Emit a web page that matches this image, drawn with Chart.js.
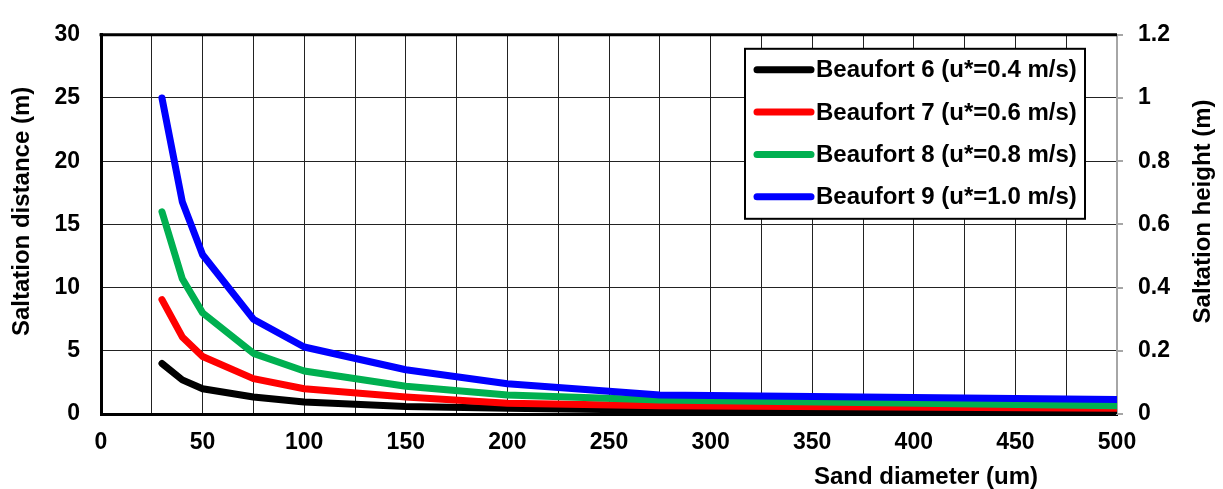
<!DOCTYPE html>
<html>
<head>
<meta charset="utf-8">
<script src="https://cdn.jsdelivr.net/npm/chart.js@4.4.0/dist/chart.umd.min.js"></script>
<style>
html, body { margin: 0; padding: 0; background: #fff; }
#cadre { width: 1223px; height: 489px; }
</style>
</head>
<body>
<div id="cadre"><canvas id="graphique-saltation"></canvas></div>
<script>
// Diamètre du sable (um)
const diametres = [30, 40, 50, 75, 100, 150, 200, 275, 500];
// Distance de saltation (m) pour chaque force de vent
const beaufort6 = [4.0, 2.7, 2.0, 1.35, 0.95, 0.6, 0.45, 0.3, 0.2];
const beaufort7 = [9.05, 6.1, 4.55, 2.8, 2.0, 1.35, 0.85, 0.65, 0.45];
const beaufort8 = [16.0, 10.7, 8.0, 4.8, 3.4, 2.2, 1.5, 1.1, 0.65];
const beaufort9 = [25.0, 16.8, 12.6, 7.5, 5.3, 3.5, 2.4, 1.5, 1.15];
// Légende
const nomsSeries = [
    "Beaufort 6 (u*=0.4 m/s)",
    "Beaufort 7 (u*=0.6 m/s)",
    "Beaufort 8 (u*=0.8 m/s)",
    "Beaufort 9 (u*=1.0 m/s)"
];
const couleurs = ["#000000", "#ff0000", "#00b050", "#0000ff"];
// Titres des axes
const titreX = "Sand diameter (um)";
const titreY = "Saltation distance (m)";
const titreY2 = "Saltation height (m)";

const police = "bold 24px 'Liberation Sans', Arial, sans-serif";
const fontTicks = { family: "'Liberation Sans', Arial, sans-serif", size: 23, weight: "bold" };

const series = [beaufort6, beaufort7, beaufort8, beaufort9];
const datasets = series.map((valeurs, i) => ({
    label: nomsSeries[i],
    data: diametres.map((d, j) => ({ x: d, y: valeurs[j] })),
    borderColor: couleurs[i],
    backgroundColor: couleurs[i],
    borderWidth: 7,
    borderCapStyle: "round",
    borderJoinStyle: "round",
    pointRadius: 0,
    tension: 0,
    yAxisID: "y",
    order: series.length - i // Beaufort 9 dessiné au-dessus
}));

// Cadre du haut, titres des axes et légende dans la zone du graphique
const habillage = {
    id: "habillage",
    beforeDatasetsDraw(chart) {
        const ctx = chart.ctx;
        const zone = chart.chartArea;
        ctx.save();
        ctx.strokeStyle = "#000";
        ctx.lineWidth = 3;
        ctx.beginPath();
        ctx.moveTo(zone.left - 1.5, zone.top);
        ctx.lineTo(zone.right, zone.top);
        ctx.stroke();
        ctx.restore();
    },
    afterDraw(chart) {
        const ctx = chart.ctx;
        const zone = chart.chartArea;
        const milieuY = (zone.top + zone.bottom) / 2 - 13;
        ctx.save();
        ctx.font = police;
        ctx.fillStyle = "#000";
        ctx.textAlign = "center";
        ctx.textBaseline = "middle";
        // titre de l'axe X
        ctx.fillText(titreX, chart.scales.x.getPixelForValue(406), 477);
        // titre de gauche
        ctx.save();
        ctx.translate(22, milieuY);
        ctx.rotate(-Math.PI / 2);
        ctx.fillText(titreY, 0, 0);
        ctx.restore();
        // titre de droite
        ctx.save();
        ctx.translate(1203, milieuY);
        ctx.rotate(-Math.PI / 2);
        ctx.fillText(titreY2, 0, 0);
        ctx.restore();

        // légende
        const boiteDroite = zone.right - 32;
        const boiteGauche = boiteDroite - 340;
        const boiteHaut = zone.top + 14;
        const boiteBas = boiteHaut + 170;
        ctx.fillStyle = "#fff";
        ctx.fillRect(boiteGauche, boiteHaut, boiteDroite - boiteGauche, boiteBas - boiteHaut);
        ctx.strokeStyle = "#000";
        ctx.lineWidth = 2;
        ctx.strokeRect(boiteGauche, boiteHaut, boiteDroite - boiteGauche, boiteBas - boiteHaut);
        ctx.textAlign = "left";
        for (let i = 0; i < nomsSeries.length; i++) {
            const y = boiteHaut + 21 + i * 42.3;
            ctx.strokeStyle = couleurs[i];
            ctx.lineWidth = 7;
            ctx.lineCap = "round";
            ctx.beginPath();
            ctx.moveTo(boiteGauche + 12, y);
            ctx.lineTo(boiteGauche + 66, y);
            ctx.stroke();
            ctx.fillStyle = "#000";
            ctx.fillText(nomsSeries[i], boiteGauche + 71, y + 1);
        }
        ctx.restore();
    }
};

new Chart(document.querySelector("#graphique-saltation"), {
    type: "line",
    data: { datasets: datasets },
    options: {
        responsive: true,
        maintainAspectRatio: false,
        animation: false,
        devicePixelRatio: 1,
        layout: { padding: { top: 26, left: 0, right: 0, bottom: 0 } },
        plugins: { legend: { display: false }, tooltip: { enabled: false } },
        scales: {
            x: {
                type: "linear",
                min: 0,
                max: 500,
                ticks: {
                    stepSize: 25,
                    autoSkip: false,
                    maxRotation: 0,
                    padding: 15,
                    color: "#000",
                    font: fontTicks,
                    callback: v => (v % 50 === 0 ? v : "")
                },
                grid: { color: "#222", lineWidth: 1, drawTicks: false },
                border: { color: "#000", width: 3 },
                afterFit: s => { s.height = 75; }
            },
            y: {
                position: "left",
                min: 0,
                max: 30,
                ticks: { stepSize: 5, padding: 21, color: "#000", font: fontTicks },
                grid: { color: "#222", lineWidth: 1, drawTicks: false },
                border: { color: "#000", width: 3 },
                afterFit: s => { s.width = 101; }
            },
            y1: {
                position: "right",
                display: true,
                min: 0,
                max: 1.2,
                ticks: {
                    stepSize: 0.2,
                    padding: 15,
                    color: "#000",
                    font: fontTicks,
                    callback: v => String(Math.round(v * 10) / 10)
                },
                grid: { drawOnChartArea: false, color: "#a6a6a6", tickLength: 6, lineWidth: 2 },
                border: { color: "#a6a6a6", width: 2 },
                afterFit: s => { s.width = 106; }
            }
        }
    },
    plugins: [habillage]
});
</script>
</body>
</html>
